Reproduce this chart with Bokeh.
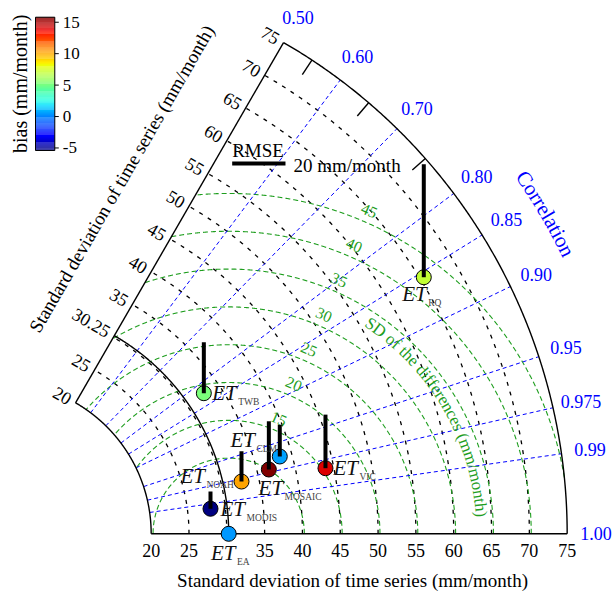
import numpy as np
from bokeh.plotting import figure
from bokeh.models import ColumnDataSource
from bokeh.embed import file_html
from bokeh.resources import INLINE
from bokeh.core.properties import value

# ---------------- data ----------------
names = ["EA", "MODIS", "NOAH", "CLM", "MOSAIC", "VIC", "TWB", "RQ"]
std_dev = [30.25, 28.04, 32.68, 38.39, 36.56, 43.91, 32.75, 65.51]
correlation = [1.0, 0.993, 0.9774, 0.9639, 0.9726, 0.9803, 0.8233, 0.8555]
rmse = [0.0, 6.5, 11.4, 11.9, 18.1, 20.1, 19.1, 42.4]
bias = [0.4, -5.4, 10.2, 0.6, 15.8, 14.1, 5.2, 7.0]

ref_std = 30.25
bottom_ticks = [20, 25, 35, 40, 45, 50, 55, 60, 65, 70, 75]
left_ticks = [20, 25, 30.25, 35, 40, 45, 50, 55, 60, 65, 70, 75]
left_tick_labels = ["20", "25", "30.25", "35", "40", "45", "50", "55", "60", "65", "70", "75"]
std_circles = [25, 30, 35, 40, 45, 50, 55, 60, 65, 70]
corr_ticks = [0.5, 0.6, 0.7, 0.8, 0.85, 0.9, 0.95, 0.975, 0.99, 1.0]
corr_labels = ["0.50", "0.60", "0.70", "0.80", "0.85", "0.90", "0.95", "0.975", "0.99", "1.00"]
corr_minor = [0.55, 0.65, 0.75]
rms_levels = [10, 15, 20, 25, 30, 35, 40, 45]
rms_label_levels = [15, 20, 25, 30, 35, 40, 45]
bias_ticks = [-5, 0, 5, 10, 15]
legend_rmse = 20

# ---------------- layout constants ----------------
S = 7.5636                 # pixels per std unit
RMSE_SCALE = 0.3524        # std units per mm/month of RMSE bar
TH = np.arccos(0.5)
R_MIN, R_MAX = 20.0, 75.0
FONT = value("Liberation Serif")
GREEN = "#1f9e1f"

p = figure(width=615, height=595, x_range=(0.0793, 81.390), y_range=(-8.157, 70.509),
           toolbar_location=None, output_backend="svg", min_border=0,
           x_axis_location=None, y_axis_location=None)
p.grid.visible = False
p.outline_line_color = None
p.title.visible = False

theta = np.linspace(0, TH, 300)

def arc(r):
    return list(r * np.cos(theta)), list(r * np.sin(theta))

# std dev dashed circles
xs, ys = [], []
for r in std_circles:
    a, b = arc(r)
    xs.append(a); ys.append(b)
p.multi_line(xs, ys, line_color="black", line_dash="4 6", line_width=1.3)

# RMS (green) arcs around reference
xs, ys = [], []
phi = np.linspace(0, np.pi, 2000)
for L in rms_levels:
    x = ref_std + L * np.cos(phi)
    y = L * np.sin(phi)
    r = np.hypot(x, y)
    th = np.arctan2(y, x)
    m = (r >= R_MIN) & (r <= R_MAX) & (th <= TH)
    idx = np.where(m)[0]
    if len(idx) == 0:
        continue
    runs = np.split(idx, np.where(np.diff(idx) > 1)[0] + 1)
    for run in runs:
        xs.append(list(x[run])); ys.append(list(y[run]))
p.multi_line(xs, ys, line_color=GREEN, line_dash="5 3", line_width=1.1)

# correlation blue dashed rays
xs, ys = [], []
for c in corr_ticks[1:-1]:
    t = np.arccos(c)
    xs.append([R_MIN * np.cos(t), R_MAX * np.cos(t)])
    ys.append([R_MIN * np.sin(t), R_MAX * np.sin(t)])
p.multi_line(xs, ys, line_color="blue", line_dash="4 3", line_width=1.0)

# solid arcs and axes
xs, ys = [], []
for r in [R_MIN, ref_std, R_MAX]:
    a, b = arc(r)
    xs.append(a); ys.append(b)
xs.append([R_MIN * np.cos(TH), R_MAX * np.cos(TH)]); ys.append([R_MIN * np.sin(TH), R_MAX * np.sin(TH)])
xs.append([R_MIN, R_MAX]); ys.append([0, 0])
for c in corr_minor:
    t = np.arccos(c)
    xs.append([(R_MAX - 2.3) * np.cos(t), R_MAX * np.cos(t)])
    ys.append([(R_MAX - 2.3) * np.sin(t), R_MAX * np.sin(t)])
p.multi_line(xs, ys, line_color="black", line_width=1.4)

# green RMS labels
phl = np.deg2rad(66.5)
src = ColumnDataSource(dict(
    x=[ref_std + (L + 1.6) * np.cos(phl) for L in rms_label_levels],
    y=[(L + 1.6) * np.sin(phl) for L in rms_label_levels],
    t=[str(L) for L in rms_label_levels]))
p.text(x="x", y="y", text="t", source=src, angle=phl - np.pi / 2, text_align="center",
       text_baseline="middle", text_color=GREEN, text_font=FONT, text_font_size="16px")

# correlation labels
rl = 78.8
src = ColumnDataSource(dict(
    x=[rl * c for c in corr_ticks], y=[rl * np.sin(np.arccos(c)) for c in corr_ticks], t=corr_labels))
p.text(x="x", y="y", text="t", source=src, text_align="center", text_baseline="middle",
       text_color="blue", text_font=FONT, text_font_size="18px")

# left axis labels
nx, ny = -np.sin(TH), np.cos(TH)
gap = 6 / S
src = ColumnDataSource(dict(
    x=[r * np.cos(TH) + gap * nx for r in left_ticks],
    y=[r * np.sin(TH) + gap * ny for r in left_ticks], t=left_tick_labels))
p.text(x="x", y="y", text="t", source=src, angle=-np.pi / 6, text_align="right",
       text_baseline="middle", text_color="black", text_font=FONT, text_font_size="18px")

# bottom axis labels
src = ColumnDataSource(dict(x=bottom_ticks, y=[-16.7 / S] * len(bottom_ticks),
                            t=[str(v) for v in bottom_ticks]))
p.text(x="x", y="y", text="t", source=src, text_align="center", text_baseline="middle",
       text_color="black", text_font=FONT, text_font_size="18px")

# axis titles
title = "Standard deviation of time series (mm/month)"
p.text(x=[46.62], y=[-6.17], text=[title], text_align="center", text_baseline="middle",
       text_font=FONT, text_font_size="19px", text_color="black")
ra, off = 48.7, 72 / S
p.text(x=[ra * np.cos(TH) + off * nx], y=[ra * np.sin(TH) + off * ny], text=[title],
       angle=np.pi / 3, text_align="center", text_baseline="middle",
       text_font=FONT, text_font_size="19px", text_color="black")

# curved texts
WIDTHS = {"S": .556, "D": .722, " ": .25, "o": .5, "f": .333, "t": .278, "h": .5, "e": .444,
          "d": .5, "i": .278, "r": .333, "n": .5, "c": .444, "s": .389, "(": .333, "m": .778,
          "/": .278, ")": .333, "C": .667, "l": .278, "a": .444}

def curved(txt, cx, cy, R, center_deg, fpx, color):
    w = np.array([WIDTHS.get(ch, .5) for ch in txt]) * fpx / S
    total = w.sum()
    start = np.deg2rad(center_deg) + (total / 2) / R
    s = np.cumsum(w) - w / 2
    ang = start - s / R
    p.text(x=list(cx + R * np.cos(ang)), y=list(cy + R * np.sin(ang)), text=list(txt),
           angle=list(ang - np.pi / 2), text_align="center", text_baseline="middle",
           text_color=color, text_font=FONT, text_font_size="%dpx" % fpx)

curved("SD of the differences (mm/month)", ref_std, 0.0, 33.5, 30.4, 17, GREEN)
curved("Correlation", 0.0, 0.0, 83.8, 30.4, 21, "blue")

# colorbar
def jet(x):
    r = np.interp(x, [0, 0.35, 0.66, 0.89, 1], [0, 0, 1, 1, 0.5])
    g = np.interp(x, [0, 0.125, 0.375, 0.64, 0.91, 1], [0, 0, 1, 1, 0, 0])
    b = np.interp(x, [0, 0.11, 0.34, 0.65, 1], [0.5, 1, 1, 0, 0])
    return "#%02x%02x%02x" % tuple(int(round(v * 255)) for v in (r, g, b))

bmin, bmax = min(bias), max(bias)
CBX0, CBX1, CBY0, CBY1 = 4.707, 7.258, 50.68, 68.30
def by(b):
    return CBY0 + (b - bmin) / (bmax - bmin) * (CBY1 - CBY0)
n = 128
edges = np.linspace(CBY0, CBY1, n + 1)
p.quad(left=CBX0, right=CBX1, bottom=list(edges[:-1]), top=list(edges[1:]),
       fill_color=[jet((i + 0.5) / n) for i in range(n)], line_color=None)
p.quad(left=[CBX0], right=[CBX1], bottom=[CBY0], top=[CBY1], fill_color=None,
       line_color="black", line_width=1)
p.segment(x0=CBX1, x1=CBX1 + 4 / S, y0=[by(t) for t in bias_ticks], y1=[by(t) for t in bias_ticks],
          line_color="black", line_width=1)
p.text(x=CBX1 + 8 / S, y=[by(t) for t in bias_ticks], text=[str(t) for t in bias_ticks],
       text_align="left", text_baseline="middle", text_font=FONT, text_font_size="17px",
       text_color="black")
p.text(x=[2.63], y=[(CBY0 + CBY1) / 2], text=["bias (mm/month)"], angle=np.pi / 2,
       text_align="center", text_baseline="middle", text_font=FONT, text_font_size="20px",
       text_color="black")

# RMSE legend
LX, LY = 30.71, 50.68
p.text(x=[LX], y=[LY], text=["RMSE"], text_align="left", text_baseline="middle",
       text_font=FONT, text_font_size="19px", text_color="black")
p.segment(x0=[LX], x1=[LX + legend_rmse * RMSE_SCALE], y0=[LY - 13 / S], y1=[LY - 13 / S],
          line_color="black", line_width=4)
p.text(x=[LX + legend_rmse * RMSE_SCALE + 8 / S], y=[LY - 15 / S], text=["%d mm/month" % legend_rmse],
       text_align="left", text_baseline="middle", text_font=FONT, text_font_size="19px",
       text_color="black")

# points
th_pts = np.arccos(np.array(correlation))
px = np.array(std_dev) * np.cos(th_pts)
py = np.array(std_dev) * np.sin(th_pts)
p.scatter(x=list(px), y=list(py), size=15, fill_color=[jet((b - bmin) / (bmax - bmin)) for b in bias],
          line_color="black", line_width=1)
p.segment(x0=list(px), x1=list(px), y0=list(py), y1=list(py + np.array(rmse) * RMSE_SCALE),
          line_color="black", line_width=4, line_cap="butt")

# ET labels (pixel offsets of the "ET" anchor from each point)
label_off = {"EA": (-17.7, 18.7), "MODIS": (10, 0), "NOAH": (-61, -6), "CLM": (-49.3, -16),
             "MOSAIC": (-10.3, 18), "VIC": (8, 0), "TWB": (8.4, 0), "RQ": (-21.6, 16.6)}
ex = [px[i] + label_off[nm][0] / S for i, nm in enumerate(names)]
ey = [py[i] - label_off[nm][1] / S for i, nm in enumerate(names)]
p.text(x=ex, y=ey, text=["ET"] * len(names), text_align="left", text_baseline="middle",
       text_font=FONT, text_font_style="italic", text_font_size="21px", text_color="#111111")
p.text(x=[v + 26 / S for v in ex], y=[v - 9 / S for v in ey], text=names, text_align="left",
       text_baseline="middle", text_font=FONT, text_font_size="9.5px", text_color="#444444")

open("out.html", "w").write(file_html(p, INLINE))
